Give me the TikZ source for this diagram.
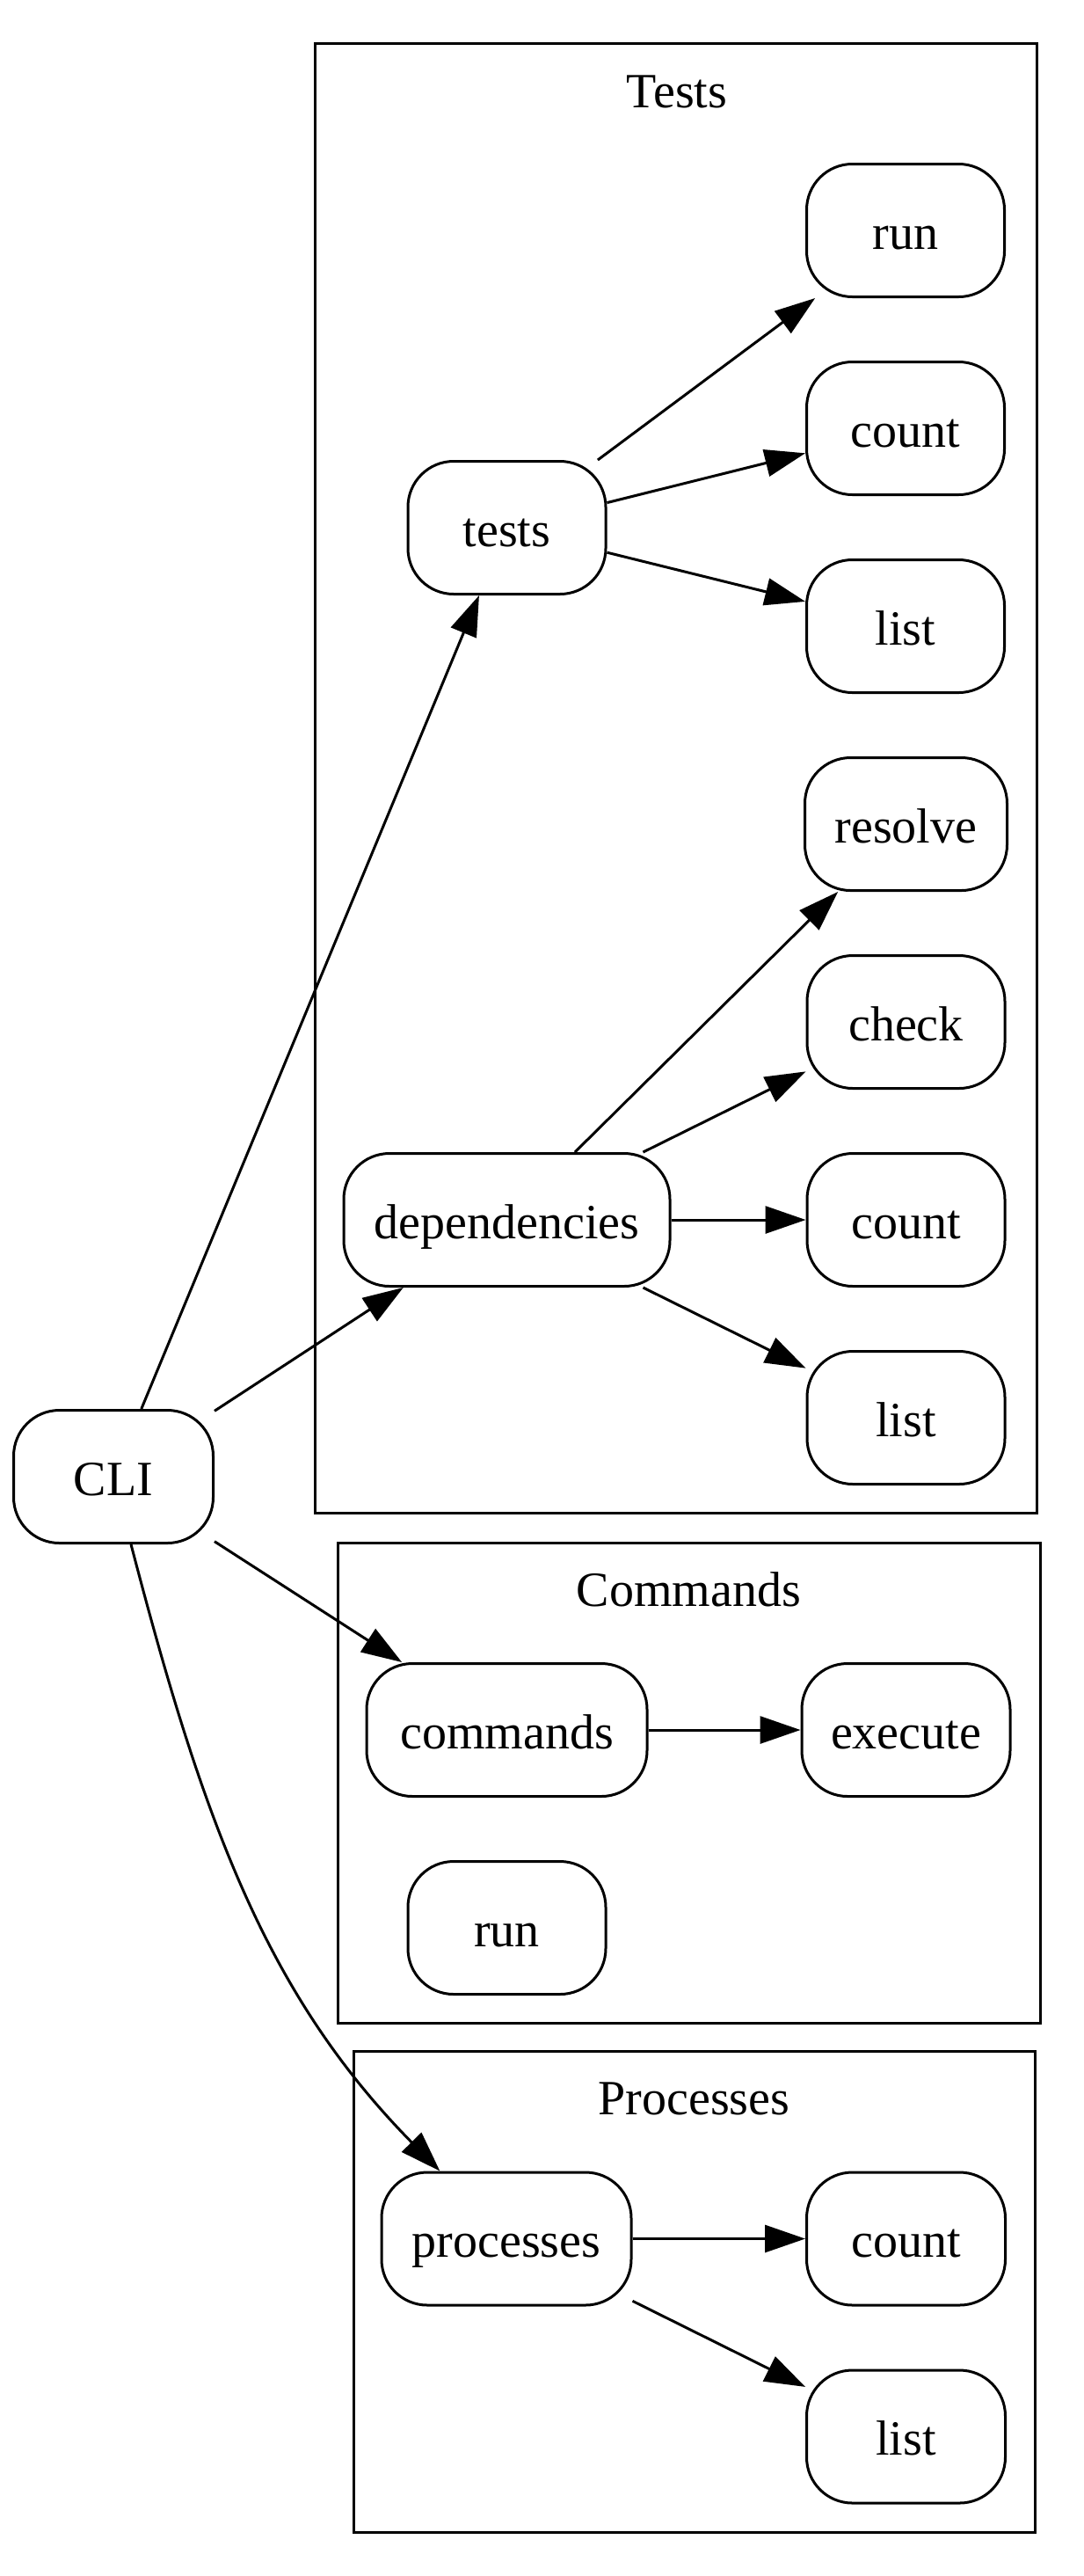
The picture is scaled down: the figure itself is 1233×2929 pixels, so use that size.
\documentclass[tikz,border=0pt]{standalone}
\usepackage{fontspec}
\setmainfont{Liberation Serif}
\usetikzlibrary{arrows.meta}
\begin{document}
\begin{tikzpicture}[x=1pt,y=-1pt,
  box/.style={draw, line width=3pt, rounded corners=52pt, minimum height=151pt,
    minimum width=225pt, inner sep=0pt, text height=42pt, text depth=0pt,
    font=\fontsize{56}{67}\selectfont},
  clusterbox/.style={draw, line width=3pt},
  clusterlabel/.style={inner sep=0pt, text height=42pt, text depth=0pt,
    font=\fontsize{56}{67}\selectfont},
  edge/.style={line width=3pt, -{Triangle[length=46pt,width=31pt]}}]
\useasboundingbox (0,0) rectangle (1233,2929);
\fill[white] (0,0) rectangle (1233,2929);

% clusters
\draw[clusterbox] (358,49.5) rectangle (1179.5,1720);
\node[clusterlabel] (ltests) at (770,101) {Tests};
\draw[clusterbox] (384,1754) rectangle (1183,2300);
\node[clusterlabel] (lcommands) at (783.5,1805.5) {Commands};
\draw[clusterbox] (402,2332) rectangle (1177,2879);
\node[clusterlabel] (lprocesses) at (789.5,2383) {Processes};

% nodes
\node[box, minimum width=227pt] (cli) at (129,1679) {CLI};
\node[box] (tests) at (576.5,600) {tests};
\node[box] (trun) at (1030,262) {run};
\node[box] (tcount) at (1030,487) {count};
\node[box] (tlist) at (1030,712) {list};
\node[box, minimum width=371pt] (deps) at (576.5,1387) {dependencies};
\node[box, minimum width=230pt] (resolve) at (1030.5,937) {resolve};
\node[box] (check) at (1030.5,1162) {check};
\node[box] (dcount) at (1030.5,1387) {count};
\node[box] (dlist) at (1030.5,1612) {list};
\node[box, minimum width=319pt] (commands) at (576.5,1967) {commands};
\node[box, minimum width=237pt] (execute) at (1030.5,1967) {execute};
\node[box] (crun) at (576.5,2192) {run};
\node[box, minimum width=284pt] (processes) at (576,2545.5) {processes};
\node[box, minimum width=226pt] (pcount) at (1030.5,2545.5) {count};
\node[box, minimum width=226pt] (plist) at (1030.5,2770.5) {list};

% edges
\draw[edge] (cli) -- (tests);
\draw[edge] (cli) -- (deps);
\draw[edge] (cli) -- (commands);
\draw[edge] (cli) .. controls (231,2070) and (302,2267) .. (processes);
\draw[edge] (tests) -- (trun);
\draw[edge] (tests) -- (tcount);
\draw[edge] (tests) -- (tlist);
\draw[edge] (deps) -- (resolve);
\draw[edge] (deps) -- (check);
\draw[edge] (deps) -- (dcount);
\draw[edge] (deps) -- (dlist);
\draw[edge] (commands) -- (execute);
\draw[edge] (processes) -- (pcount);
\draw[edge] (processes) -- (plist);
\end{tikzpicture}
\end{document}
